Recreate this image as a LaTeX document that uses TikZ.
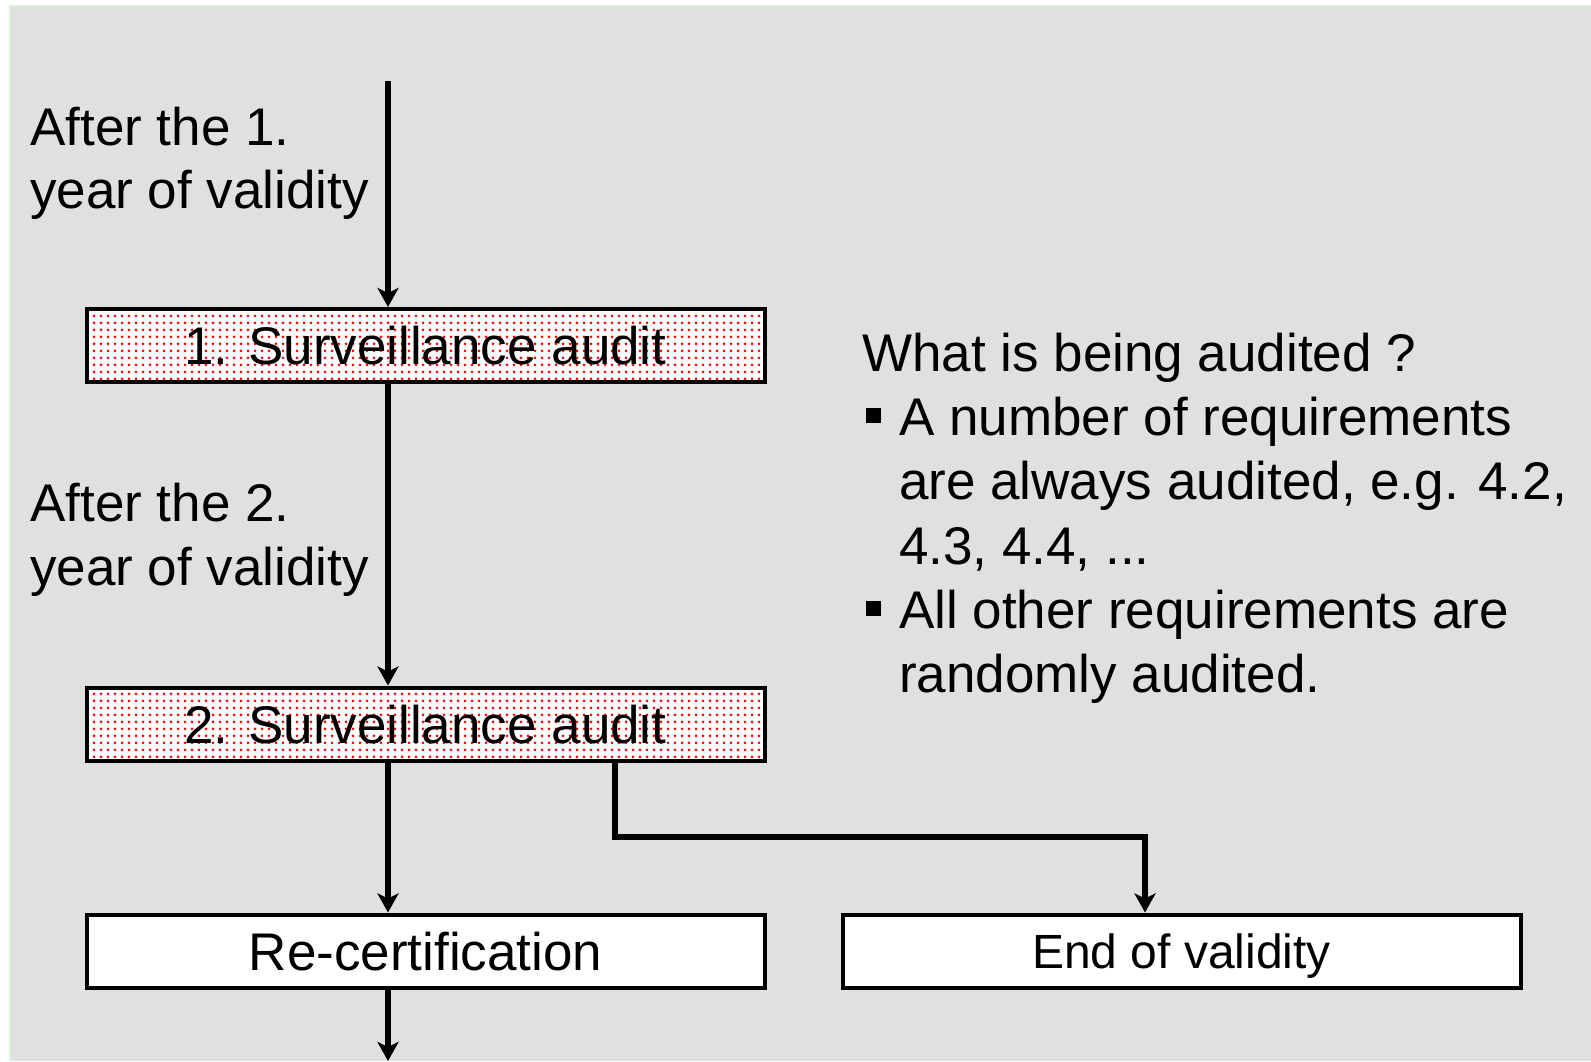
\documentclass[tikz,border=0pt]{standalone}
\usepackage{fontspec}
\setmainfont{Liberation Sans}
\usetikzlibrary{arrows.meta,patterns.meta}
\tikzdeclarepattern{name=reddots,type=uncolored,
  bounding box={(0pt,0pt) and (7pt,7pt)},tile size={(7pt,7pt)},
  code={\fill (3.5pt,3.5pt) circle (1.7pt);}}
\definecolor{bggray}{HTML}{E0E0E0}
\definecolor{edgegreen}{HTML}{D8F3DE}
\begin{document}
\begin{tikzpicture}[x=1pt,y=-1pt,
  txt/.style={font=\fontsize{53}{64}\selectfont, inner sep=0pt, anchor=base west},
  box/.style={draw=black, line width=4pt, minimum width=678pt, minimum height=73pt,
    inner sep=0pt, text depth=0pt, font=\fontsize{53}{64}\selectfont, fill=white},
  auditbox/.style={box, preaction={fill=white}, pattern=reddots, pattern color=red},
  flow/.style={line width=5.5pt, line join=miter, -{Stealth[length=19pt,width=21pt,inset=5pt]}},
  bulletsq/.style={fill=black, minimum size=15pt, inner sep=0pt}]
\useasboundingbox (0,0) rectangle (1591,1061);
\fill[white] (0,0) rectangle (1591,1061);
\fill[bggray] (10,6) rectangle (1591,1061);
\draw[edgegreen, line width=2pt] (10,1061) -- (10,6) -- (1591,6);

% left labels
\node[txt] (a1) at (30,145) {After the 1.};
\node[txt] (a2) at (30,208) {year of validity};
\node[txt] (b1) at (30,521) {After the 2.};
\node[txt] (b2) at (30,585) {year of validity};

% boxes
\node[auditbox] (s1) at (425.5,345.5) {1. Surveillance audit};
\node[auditbox] (s2) at (425.5,724) {2. Surveillance audit};
\node[box] (rc) at (425.5,951) {Re-certification};
\node[box, font=\fontsize{48}{58}\selectfont] (ev) at (1181.5,951) {End of validity};

% right text
\node[txt] (q) at (862,371) {What is being audited ?};
\node[bulletsq] (bu1) at (873,415) {};
\node[txt] (l1) at (899,435) {A number of requirements};
\node[txt] (l2) at (899,499) {are always audited, e.g. 4.2,};
\node[txt] (l3) at (899,564) {4.3, 4.4, ...};
\node[bulletsq] (bu2) at (873,608) {};
\node[txt] (l4) at (899,628) {All other requirements are};
\node[txt] (l5) at (899,692) {randomly audited.};

% connectors
\coordinate (top) at (388,81);
\coordinate (bot) at (388,1061);
\coordinate (k1) at (615,837);
\coordinate (k2) at (1145,837);
\draw[flow] (top) -- (top |- s1.north);
\draw[flow] (s1.south -| top) -- (s2.north -| top);
\draw[flow] (s2.south -| top) -- (rc.north -| top);
\draw[flow] (rc.south -| top) -- (bot);
\draw[flow] (s2.south -| k1) -- (k1) -- (k2) -- (k2 |- ev.north);
\end{tikzpicture}
\end{document}
